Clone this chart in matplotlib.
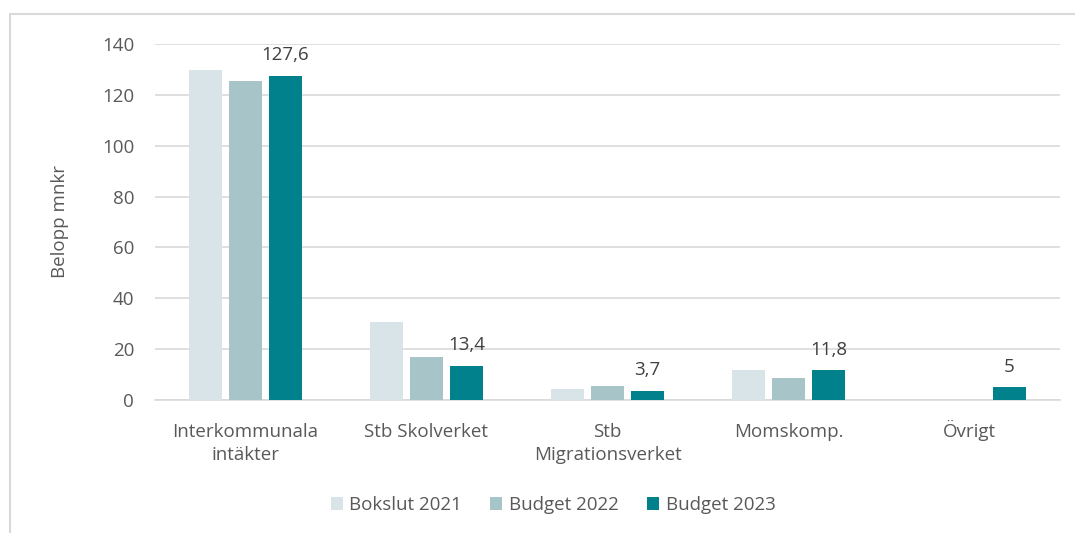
import numpy as np
import matplotlib.pyplot as plt
from matplotlib.patches import Rectangle

# ── data ──────────────────────────────────────────────────────────────────────
categories = ["Interkommunala\nintäkter", "Stb Skolverket", "Stb\nMigrationsverket",
              "Momskomp.", "Övrigt"]
series_names = ["Bokslut 2021", "Budget 2022", "Budget 2023"]
bokslut_2021 = [129.8, 30.7, 4.3, 11.7, 0.0]
budget_2022 = [125.4, 16.9, 5.5, 8.8, 0.0]
budget_2023 = [127.6, 13.4, 3.7, 11.8, 5.0]
labels_2023 = ["127,6", "13,4", "3,7", "11,8", "5"]
yticks = [0, 20, 40, 60, 80, 100, 120, 140]

colors = ["#D9E4E9", "#A7C4C9", "#00818C"]
text_color = "#595959"
grid_color = "#D9D9D9"

plt.rcParams["font.family"] = ["Open Sans", "DejaVu Sans"]
FS = 13.5

# ── plot ──────────────────────────────────────────────────────────────────────
fig = plt.figure(figsize=(10.75, 5.33), dpi=100)
ax = fig.add_axes([155 / 1075, 1 - 400 / 533, 905 / 1075, 356 / 533])

x = np.arange(len(categories))
width = 0.177
step = 0.221
all_series = [bokslut_2021, budget_2022, budget_2023]
bars = []
for i, (vals, col, name) in enumerate(zip(all_series, colors, series_names)):
    b = ax.bar(x + (i - 1) * step, vals, width, color=col, label=name, zorder=3)
    bars.append(b)

for rect, lab in zip(bars[2], labels_2023):
    ax.text(rect.get_x() + rect.get_width() / 2, rect.get_height() + 4.5, lab,
            ha="center", va="bottom", fontsize=FS, color="#404040")

ax.set_xlim(-0.5, len(categories) - 0.5)
ax.set_ylim(0, 140)
ax.set_yticks(yticks)
ax.set_xticks(x)
# every label gets two lines so first lines share one baseline (Ö would push "Övrigt" down)
tick_text = [c if "\n" in c else c + "\n " for c in categories]
ax.set_xticklabels(tick_text, fontsize=FS, color=text_color, linespacing=1.35)
for lbl in ax.get_xticklabels():
    lbl.set_multialignment("center")
    lbl.set_verticalalignment("baseline")
ax.tick_params(axis="y", labelsize=FS, labelcolor=text_color, length=0, pad=15)
ax.tick_params(axis="x", length=0, pad=43)
ax.grid(axis="y", color=grid_color, linewidth=1.2, zorder=0)
for side in ["top", "right", "left"]:
    ax.spines[side].set_visible(False)
ax.spines["bottom"].set_color(grid_color)
ax.spines["bottom"].set_linewidth(1.2)

fig.text(60 / 1075, 1 - 222 / 533, "Belopp mnkr", rotation=90, ha="center",
         va="center", fontsize=FS, color=text_color)

leg = fig.legend(loc="center", bbox_to_anchor=(553 / 1075, 1 - 505 / 533), ncol=3,
                 frameon=False, fontsize=FS, handlelength=0.65, handleheight=0.65,
                 handletextpad=0.35, columnspacing=1.5)
for t in leg.get_texts():
    t.set_color(text_color)

# outer frame (cropped at right and bottom)
fig.patches.append(Rectangle((10 / 1075, -0.1), 1.2, 1 - 14.5 / 533 + 0.1,
                             transform=fig.transFigure, fill=False,
                             edgecolor="#D9D9D9", linewidth=1.5))

plt.savefig("out.png", dpi=100)
